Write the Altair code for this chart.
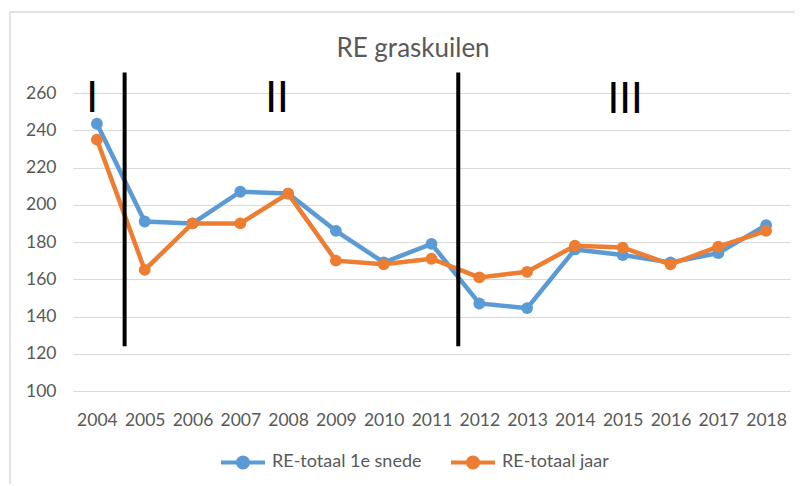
import altair as alt
import pandas as pd

years = list(range(2004, 2019))
re_1e_snede = [243.5, 191, 190, 207, 206, 186, 169, 179, 147, 144.5, 176, 173, 169, 174, 189]
re_jaar = [235, 165, 190, 190, 206, 170, 168, 171, 161, 164, 178, 177, 168, 177.5, 186]
series_names = ["RE-totaal 1e snede", "RE-totaal jaar"]
series_colors = ["#5B9BD5", "#ED7D31"]
y_ticks = [100, 120, 140, 160, 180, 200, 220, 240, 260]

phase_x = [2004.58, 2011.56]
phase_top = [271, 271]
phase_bottom = [124, 124]

phase_labels = ["I", "II", "III"]
phase_label_x = [2003.9, 2007.77, 2015.05]
phase_label_y = [250, 250, 249.5]

chart_title = ["RE graskuilen"]

FONT = "Lato"
GREY = "#595959"

rows = []
for name, vals in zip(series_names, [re_1e_snede, re_jaar]):
    for yr, v in zip(years, vals):
        rows.append({"year": yr, "value": v, "series": name})
df = pd.DataFrame(rows)

phase_df = pd.DataFrame({"x": phase_x, "top": phase_top, "bottom": phase_bottom})
label_df = pd.DataFrame({"x": phase_label_x, "y": phase_label_y, "text": phase_labels})
title_df = pd.DataFrame({"text": chart_title})

x_scale = alt.Scale(domain=[2003.5, 2018.5], nice=False, zero=False)
y_scale = alt.Scale(domain=[100, 260], nice=False, zero=False)
color_scale = alt.Scale(domain=series_names, range=series_colors)

x_axis = alt.Axis(values=years, format="d", grid=False, ticks=False, domain=False,
                  labelFontSize=17.5, labelColor=GREY, labelFont=FONT, labelPadding=20,
                  labelOverlap=False, title=None)
y_axis = alt.Axis(values=y_ticks, grid=True, gridColor="#D9D9D9", gridWidth=1,
                  ticks=False, domain=False, labelFontSize=17.5, labelColor=GREY,
                  labelFont=FONT, labelPadding=17, labelOverlap=False, title=None)

legend_path = ("M-1,0L1,0"
               "M-0.09,0A0.09,0.09,0,1,1,0.09,0A0.09,0.09,0,1,1,-0.09,0"
               "M-0.23,0A0.23,0.23,0,1,1,0.23,0A0.23,0.23,0,1,1,-0.23,0")
legend = alt.Legend(title=None, orient="none", direction="horizontal",
                    legendX=146, legendY=345, symbolType=legend_path,
                    symbolSize=1936, symbolStrokeWidth=4, labelFontSize=18,
                    labelColor=GREY, labelFont=FONT, labelOffset=5,
                    columnPadding=21, padding=0)

layers = []
for name in series_names:
    layers.append(
        alt.Chart(df).transform_filter(alt.datum.series == name)
        .mark_line(strokeWidth=4.5, point=alt.OverlayMarkDef(size=140, filled=True, opacity=1))
        .encode(
            x=alt.X("year:Q", scale=x_scale, axis=x_axis),
            y=alt.Y("value:Q", scale=y_scale, axis=y_axis),
            color=alt.Color("series:N", scale=color_scale, legend=legend),
        )
    )

phase_lines = alt.Chart(phase_df).mark_rule(color="black", strokeWidth=4).encode(
    x=alt.X("x:Q", scale=x_scale, axis=x_axis),
    y=alt.Y("top:Q", scale=y_scale, axis=y_axis),
    y2="bottom:Q",
)
phase_text = alt.Chart(label_df).mark_text(
    font=FONT, fontSize=42, color="black", baseline="alphabetic", align="center"
).encode(
    x=alt.X("x:Q", scale=x_scale, axis=x_axis),
    y=alt.Y("y:Q", scale=y_scale, axis=y_axis),
    text="text:N",
)

title_text = alt.Chart(title_df).mark_text(
    font=FONT, fontSize=26, color=GREY, baseline="alphabetic", align="center"
).encode(x=alt.value(340), y=alt.value(-36), text="text:N")

frame_left = alt.Chart().mark_rule(color="#D9D9D9", strokeWidth=1.5).encode(
    x=alt.value(-63), y=alt.value(-81), y2=alt.value(400)
)
frame_top = alt.Chart().mark_rule(color="#D9D9D9", strokeWidth=1.5).encode(
    x=alt.value(-63), x2=alt.value(740), y=alt.value(-81)
)

chart = (
    alt.layer(frame_left, frame_top, *layers, phase_lines, phase_text, title_text)
    .properties(
        width=717, height=298,
        autosize=alt.AutoSizeParams(type="none"),
        padding={"left": 65, "top": 85, "right": 5, "bottom": 93},
    )
    .configure(background="white")
    .configure_view(stroke=None)
)

chart.save("out.html", embed_options={"renderer": "svg", "actions": False})
